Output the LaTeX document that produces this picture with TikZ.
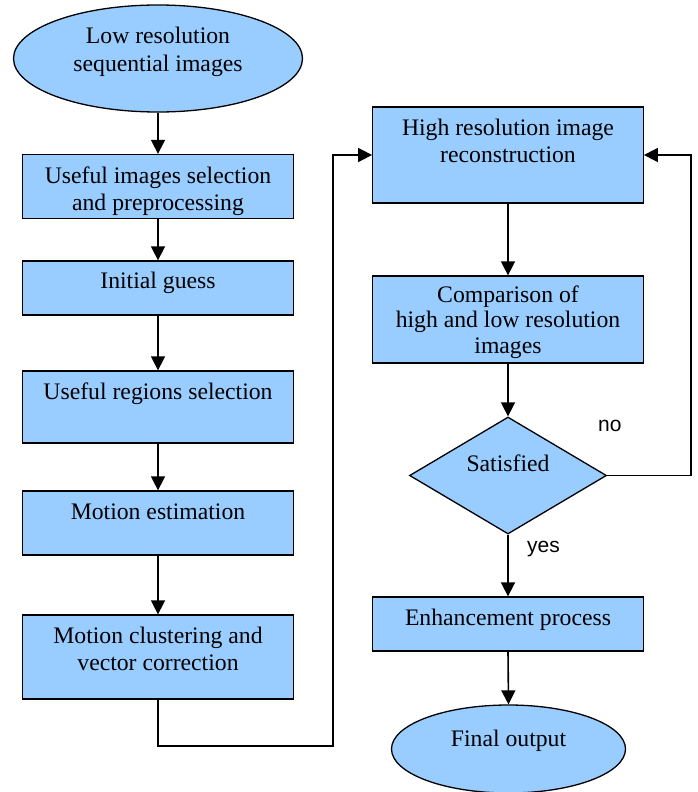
\documentclass[tikz,border=0pt]{standalone}
\usepackage{fontspec}
\setmainfont{Liberation Serif}
\newfontfamily\labelsans{Liberation Sans}
\usetikzlibrary{shapes.geometric,arrows.meta}
\definecolor{boxblue}{RGB}{153,204,255}
\tikzset{
  box/.style={rectangle, draw=black, fill=boxblue, line width=1.3pt, minimum width=270.5pt, inner sep=0pt},
  oval/.style={ellipse, draw=black, fill=boxblue, line width=1.3pt, inner sep=0pt},
  decision/.style={diamond, draw=black, fill=boxblue, line width=1.3pt, inner sep=0pt},
  txt/.style={anchor=base, font=\fontsize{23.7}{27.5}\selectfont, inner sep=0pt},
  lbl/.style={anchor=base west, font=\labelsans\fontsize{21}{24}\selectfont, inner sep=0pt},
  flow/.style={line width=1.6pt, -{Triangle[length=14pt,width=14pt]}},
  link/.style={line width=1.6pt},
}
\begin{document}
\begin{tikzpicture}[x=1pt,y=-1pt]
\useasboundingbox (0,0) rectangle (698,792);
% left column shapes
\node[oval, minimum width=289pt, minimum height=107pt] (e1) at (158,58.5) {};
\node[box, minimum height=64pt] (b1) at (158,186.5) {};
\node[box, minimum height=54pt] (b2) at (158,288) {};
\node[box, minimum height=72pt] (b3) at (158,407) {};
\node[box, minimum height=64pt] (b4) at (158,523) {};
\node[box, minimum height=84pt] (b5) at (158,657) {};
% right column shapes
\node[box, minimum height=96pt] (r1) at (508,155) {};
\node[box, minimum height=87pt] (r2) at (508,319.5) {};
\node[decision, minimum width=197pt, minimum height=117pt] (d) at (508,475.5) {};
\node[box, minimum height=54pt] (r3) at (508,624) {};
\node[oval, minimum width=234pt, minimum height=88pt] (e2) at (508.5,749) {};
% texts
\node[txt] (te1) at (158,44) {\begin{tabular}[t]{@{}c@{}}Low resolution\\sequential images\end{tabular}};
\node[txt] (tb1) at (158,183) {\begin{tabular}[t]{@{}c@{}}Useful images selection\\and preprocessing\end{tabular}};
\node[txt] (tb2) at (158,288) {Initial guess};
\node[txt] (tb3) at (158,399) {Useful regions selection};
\node[txt] (tb4) at (158,519) {Motion estimation};
\node[txt] (tb5) at (158,643) {\begin{tabular}[t]{@{}c@{}}Motion clustering and\\vector correction\end{tabular}};
\node[txt] (tr1) at (508,135) {\begin{tabular}[t]{@{}c@{}}High resolution image\\reconstruction\end{tabular}};
\node[txt, font=\fontsize{23.7}{25.5}\selectfont] (tr2) at (508,302) {\begin{tabular}[t]{@{}c@{}}Comparison of\\high and low resolution\\images\end{tabular}};
\node[txt] (td) at (508,471) {Satisfied};
\node[txt] (tr3) at (508,625) {Enhancement process};
\node[txt] (te2) at (508.5,746) {Final output};
\node[lbl] (no) at (598,431) {no};
\node[lbl] (yes) at (527,552) {yes};
% helper corners
\coordinate (c1) at (333,746);
\coordinate (c2) at (691,155);
% connectors
\draw[flow] (e1.south) -- (b1.north);
\draw[flow] (b1.south) -- (b2.north);
\draw[flow] (b2.south) -- (b3.north);
\draw[flow] (b3.south) -- (b4.north);
\draw[flow] (b4.south) -- (b5.north);
\draw[flow] (b5.south) |- (c1) |- (r1.west);
\draw[flow] (r1.south) -- (r2.north);
\draw[flow] (r2.south) -- (d.north);
\draw[flow] (d.south) -- (r3.north);
\draw[flow] (r3.south) -- (e2.north);
\draw[flow] (d.east) -| (c2) -- (r1.east);
\end{tikzpicture}
\end{document}
